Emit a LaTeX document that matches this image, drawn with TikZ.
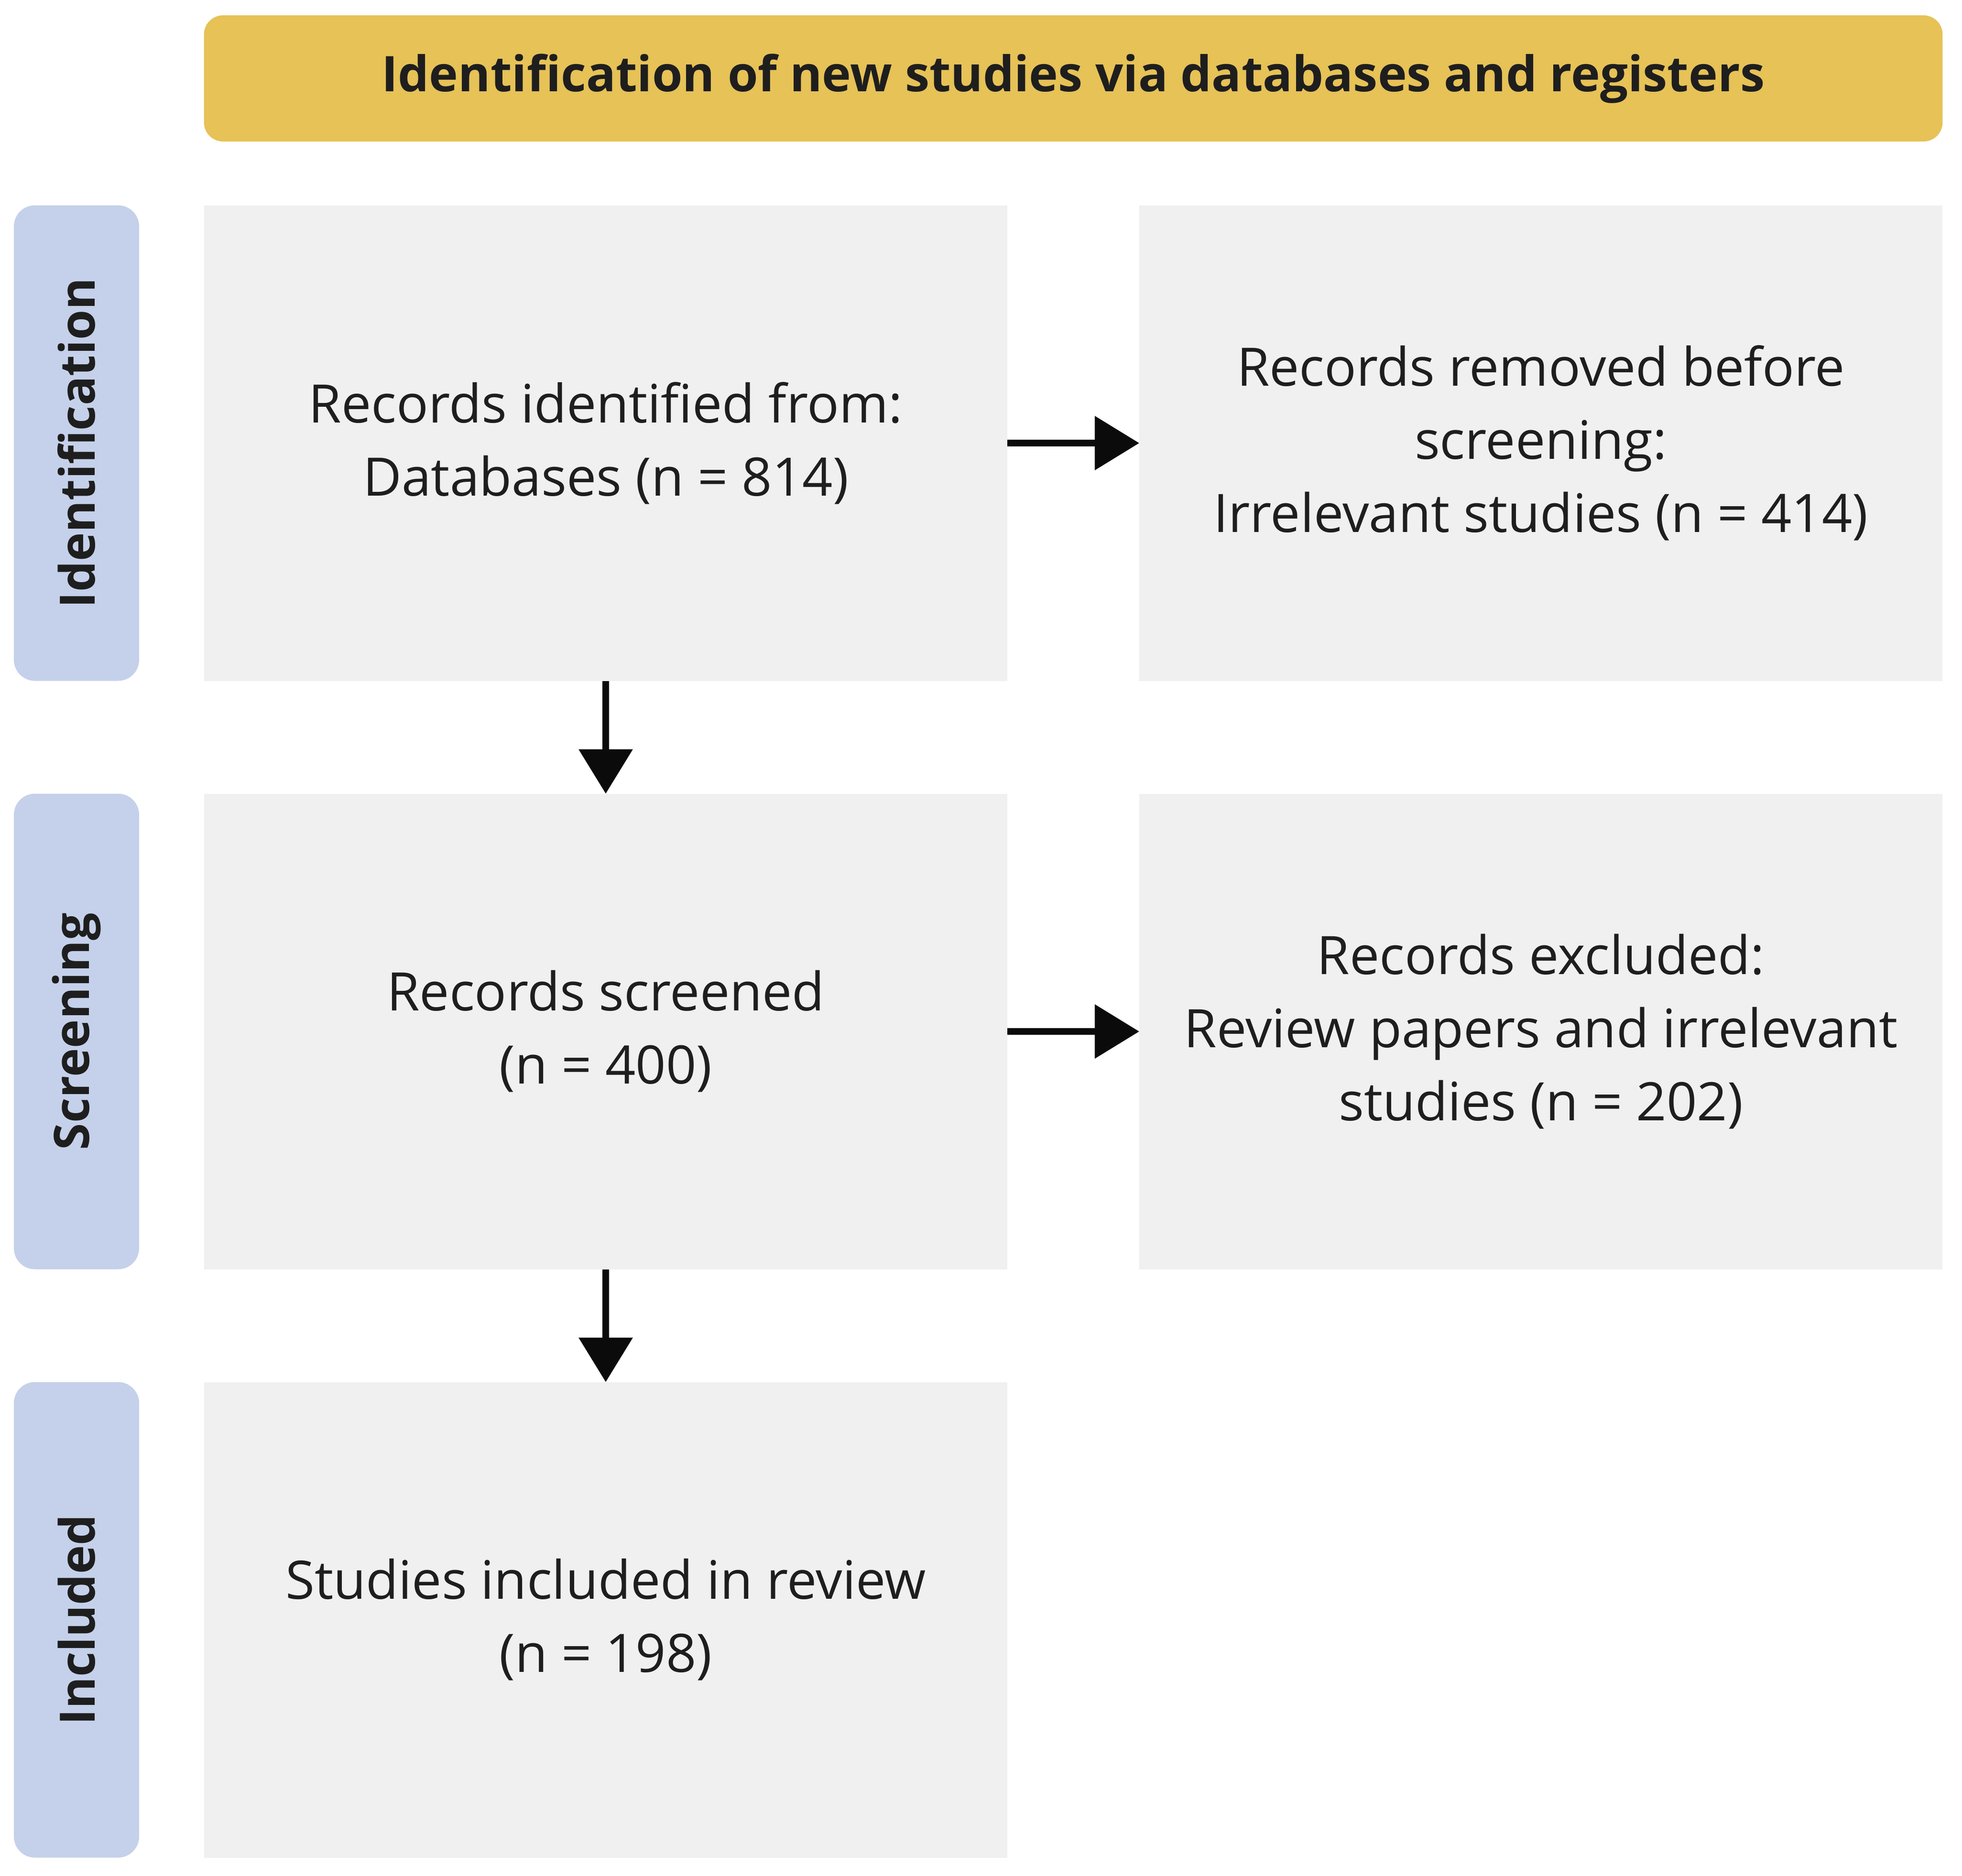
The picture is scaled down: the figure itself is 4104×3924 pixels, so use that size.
\documentclass[tikz,border=0pt]{standalone}
\usepackage{fontspec}
\setmainfont{Open Sans}
\usetikzlibrary{arrows.meta}
\definecolor{gold}{HTML}{E6C257}
\definecolor{phase}{HTML}{C5D1EA}
\definecolor{boxgray}{HTML}{F0F0F0}
\definecolor{ink}{HTML}{1E1E1E}
\definecolor{arrowink}{HTML}{0B0B0B}
\begin{document}
\begin{tikzpicture}[x=0.1pt,y=-0.1pt,
  every node/.style={inner sep=0pt, outer sep=0pt, text=ink},
  txt/.style={font=\fontsize{11.1pt}{15.3pt}\selectfont, align=center},
  flowbox/.style={txt, fill=boxgray, minimum width=168pt, minimum height=99.5pt},
  phasebox/.style={fill=phase, rounded corners=4.4pt, minimum width=26.2pt, minimum height=99.5pt},
  phasetext/.style={font=\fontsize{10.2pt}{15.3pt}\selectfont\bfseries, rotate=90},
  headbox/.style={fill=gold, rounded corners=4pt, minimum width=363.7pt, minimum height=26.4pt,
    font=\fontsize{10.28pt}{15.3pt}\selectfont\bfseries},
  flow/.style={draw=arrowink, line width=1.4pt, -{Triangle[length=9.3pt,width=11pt]}}
]
\useasboundingbox (0,0) rectangle (4104,3924);

\node[headbox] (head) at (2245,164) {Identification of new studies via databases and registers};

\node[phasebox] (p1) at (160,927) {};
\node[phasetext] (p1t) at (p1.center) {Identification};
\node[phasebox] (p2) at (160,2158) {};
\node[phasetext] (p2t) at (p2.center) {Screening};
\node[phasebox] (p3) at (160,3389) {};
\node[phasetext] (p3t) at (p3.center) {Included};

\node[flowbox] (ident) at (1267,927) {Records identified from:\\Databases (n = 814)};
\node[flowbox] (removed) at (3223,927) {Records removed before\\screening:\\Irrelevant studies (n = 414)};
\node[flowbox] (screened) at (1267,2158) {Records screened\\(n = 400)};
\node[flowbox] (excluded) at (3223,2158) {Records excluded:\\Review papers and irrelevant\\studies (n = 202)};
\node[flowbox] (included) at (1267,3389) {Studies included in review\\(n = 198)};

\draw[flow] (ident.east) -- (removed.west);
\draw[flow] (screened.east) -- (excluded.west);
\draw[flow] (ident.south) -- (screened.north);
\draw[flow] (screened.south) -- (included.north);
\end{tikzpicture}
\end{document}
